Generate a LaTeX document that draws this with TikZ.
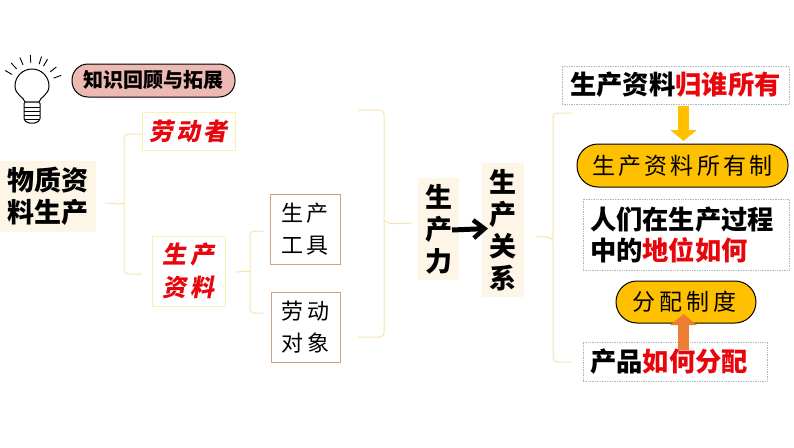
\documentclass[tikz,border=0pt]{standalone}
\usepackage{fontspec}
\usetikzlibrary{arrows.meta,calc}
\newfontfamily\cjk{Noto Sans CJK SC}
\newfontfamily\cjksl[FakeSlant=0.18,LetterSpace=14]{Noto Sans CJK SC}
\newfontfamily\cjksp[LetterSpace=14]{Noto Sans CJK SC}
\definecolor{cream}{HTML}{FDF6E6}
\definecolor{pale}{HTML}{F8F3A8}
\definecolor{bracec}{HTML}{F3E4AE}
\definecolor{tan}{HTML}{CBA386}
\definecolor{gold}{HTML}{FFC000}
\definecolor{orangeA}{HTML}{ED7D31}
\definecolor{dotc}{HTML}{A9B9C0}
\definecolor{pinkp}{HTML}{EDB9B3}
\definecolor{redt}{HTML}{E8060C}
\tikzset{
 x=1pt,y=-1pt,
 base/.style={inner sep=0pt,outer sep=0pt,align=center},
 head/.style={base,fill=cream,font=\cjk\bfseries\fontsize{27}{32}\selectfont},
 redbox/.style={base,fill=white,draw=pale,line width=1pt,text=redt,font=\cjksl\bfseries\fontsize{24}{33}\selectfont},
 tanbox/.style={base,fill=white,draw=tan,line width=1pt,font=\cjksp\fontsize{22}{32}\selectfont},
 dotbox/.style={base,fill=white,draw=dotc,line width=.7pt,densely dotted},
 dottext/.style={base,font=\cjk\bfseries\fontsize{26.3}{31}\selectfont},
 pillbox/.style={base,fill=gold,draw=black,line width=1pt,rounded corners=21pt,font=\cjksp\fontsize{23}{28}\selectfont},
 brc/.style={draw=bracec,line width=1pt,rounded corners=4pt},
 fat/.style={line width=11pt,-{Triangle[width=26pt,length=11pt]}},
}
\begin{document}
\begin{tikzpicture}
\useasboundingbox (0,0) rectangle (794,447);
% bulb
\coordinate (bulbc) at (32,86);
\draw[line width=1pt,fill=white] (25,102) .. controls (24,97) and (15,95) .. (15,86) arc[start angle=180,end angle=0,radius=17pt] .. controls (49,95) and (40,97) .. (39,102) -- cycle;
\draw[line width=1pt,fill=white,rounded corners=1.5pt] (24,102) -- (40,102) -- (40,120) -- (36,123) -- (28,123) -- (24,120) -- cycle;
\foreach \yy in {107,111,115,119} \draw[line width=.7pt] (24,\yy) -- (40,\yy);
\foreach \aa in {150,132,113,93,72,60,38,20}
  \draw[line width=.9pt] ($(bulbc)+(\aa:23pt)$) -- ($(bulbc)+(\aa:31pt)$);
% review pill
\node[base,fill=pinkp,draw=black,line width=1pt,rounded corners=16pt,minimum width=163pt,minimum height=33pt,font=\cjk\bfseries\fontsize{20}{24}\selectfont] (review) at (153.5,80.5) {知识回顾与拓展};
% left column
\node[head,minimum width=96pt,minimum height=71pt] (wz) at (48,196.5) {物质资\\料生产};
\node[redbox,minimum width=93pt,minimum height=38pt] (ldz) at (188.5,131) {劳动者};
\node[redbox,minimum width=73pt,minimum height=70pt] (sczl) at (188.5,271) {生产\\资料};
\node[tanbox,minimum width=70pt,minimum height=70pt] (scgj) at (305,229) {生产\\工具};
\node[tanbox,minimum width=69pt,minimum height=70pt] (ldx) at (305.5,327) {劳动\\对象};
\node[head,minimum width=41pt,minimum height=102pt] (scl) at (438.5,229) {生\\产\\力};
\node[head,minimum width=42pt,minimum height=134pt] (scgx) at (503,230) {生\\产\\关\\系};
% brace coordinates
\coordinate (b1t) at (105,203); \coordinate (b1a) at (142,134); \coordinate (b1b) at (142,274);
\coordinate (b2t) at (236,272); \coordinate (b2a) at (264,231); \coordinate (b2b) at (264,313);
\coordinate (b3t) at (412,223); \coordinate (b3a) at (358,110); \coordinate (b3b) at (358,337);
\coordinate (b4t) at (536,237); \coordinate (b4a) at (572,113); \coordinate (b4b) at (572,362);
\draw[brc] (b1a) -- (124,134) -- (124,274) -- (b1b);
\draw[bracec,line width=1pt] (b1t) .. controls (115,203) and (120,205) .. (124,203);
\draw[brc] (b2a) -- (250,231) -- (250,313) -- (b2b);
\draw[bracec,line width=1pt] (b2t) .. controls (243,272) and (246,270) .. (250,272);
\draw[brc] (b3a) -- (384,110) -- (384,337) -- (b3b);
\draw[bracec,line width=1pt] (b3t) .. controls (400,223) and (390,226) .. (384,220);
\draw[brc] (b4a) -- (553,113) -- (553,362) -- (b4b);
\draw[bracec,line width=1pt] (b4t) .. controls (544,237) and (549,236) .. (553,240);
% black arrow
\coordinate (arrS) at (452,230); \coordinate (arrE) at (488,228.5);
\draw[line width=5pt,-{Straight Barb[length=11pt,width=18pt,line width=4.5pt]}] (arrS) -- (arrE);
% right column
\node[dotbox,minimum width=227pt,minimum height=38pt] (own) at (675.5,85) {};
\node[dottext] (ownt) at (own.center) {生产资料{\color{redt}归谁所有}};
\node[pillbox,minimum width=211pt,minimum height=43pt] (ownp) at (682.5,165.5) {\raisebox{-1.5pt}{生产资料所有制}};
\node[dotbox,minimum width=206pt,minimum height=71pt] (pos) at (686,234.5) {};
\node[dottext,text width=196pt,align=left] (post) at (688,235) {人们在生产过程\\中的{\color{redt}地位如何}};
\node[pillbox,minimum width=140pt,minimum height=42pt] (dist) at (686,302) {\hspace*{-3pt}\addfontfeature{LetterSpace=17}分配制度};
\node[dotbox,minimum width=184pt,minimum height=39pt] (prod) at (675,361.5) {};
\coordinate (ga) at (683.5,106); \coordinate (gb) at (683.5,141);
\coordinate (oa) at (683.5,350); \coordinate (ob) at (683.5,314);
\draw[fat,draw=gold,fill=gold] (ga) -- (gb);
\draw[fat,draw=orangeA,fill=orangeA] (oa) -- (ob);
\node[dottext] (prodt) at (669,361.5) {产品{\color{redt}如何分配}};
\end{tikzpicture}
\end{document}
